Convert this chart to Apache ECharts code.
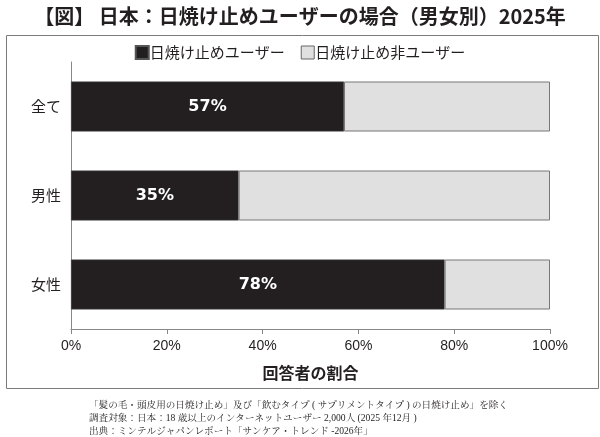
<!DOCTYPE html>
<html><head><meta charset="utf-8">
<script src="https://cdn.jsdelivr.net/npm/echarts@6/dist/echarts.min.js"></script>
<style>html,body{margin:0;padding:0;background:#fff}#c{width:600px;height:437px}</style>
</head><body><div id="c"></div>
<script>
const categories = ['全て', '男性', '女性'];
const users = [57, 35, 78];
const nonUsers = [43, 65, 22];
const seriesNames = ['日焼け止めユーザー', '日焼け止め非ユーザー'];
const tickLabels = ['0%', '20%', '40%', '60%', '80%', '100%'];
const titleText = '【図】 日本：日焼け止めユーザーの場合（男女別）2025年';
const axisName = '回答者の割合';
const notes = [
  '「髪の毛・頭皮用の日焼け止め」及び「飲むタイプ ( サプリメントタイプ ) の日焼け止め」を除く',
  '調査対象：日本：18 歳以上のインターネットユーザー 2,000人 (2025 年12月 )',
  '出典：ミンテルジャパンレポート「サンケア・トレンド -2026年」'
];
const sans = '"Noto Sans CJK JP", sans-serif';
const latin = '"Liberation Sans", "Noto Sans CJK JP", sans-serif';
const chart = echarts.init(document.getElementById('c'));
chart.setOption({
  animation: false,
  backgroundColor: '#fff',
  title: {text: titleText, left: 'center', top: 1,
    textStyle: {fontFamily: sans, fontSize: 20, fontWeight: 'bold', color: '#231f20'}},
  graphic: [
    {type: 'rect', left: 4, top: 33, shape: {width: 592, height: 353}, style: {fill: 'none', stroke: '#7a7a7a', lineWidth: 1}},
    {type: 'text', left: 89, top: 399, style: {text: notes.join('\n'), font: '9.6px "Liberation Serif", "Noto Serif CJK JP", serif', lineHeight: 13, fill: '#231f20'}}
  ],
  legend: {top: 40, left: 'center', itemGap: 16, itemWidth: 13, itemHeight: 13, icon: 'rect',
    textStyle: {fontFamily: sans, fontSize: 15, color: '#231f20', padding: [0,0,0,-4]},
    data: [{name: seriesNames[0]}, {name: seriesNames[1], itemStyle: {borderColor: '#666', borderWidth: 1}}]},
  grid: {left: 71, right: 50, top: 62, bottom: 108, containLabel: false},
  xAxis: {type: 'value', min: 0, max: 100, interval: 20,
    axisLabel: {formatter: v => tickLabels[v / 20], fontFamily: latin, fontSize: 14, color: '#231f20', margin: 10},
    axisLine: {show: true, lineStyle: {color: '#888'}},
    axisTick: {show: true, length: 5, lineStyle: {color: '#888'}},
    splitLine: {show: false},
    name: axisName, nameLocation: 'middle', nameGap: 36,
    nameTextStyle: {fontFamily: sans, fontSize: 16, fontWeight: 'bold', color: '#231f20'}},
  yAxis: {type: 'category', data: categories, inverse: true,
    axisLine: {show: true, lineStyle: {color: '#888'}},
    axisTick: {show: false},
    axisLabel: {fontFamily: sans, fontSize: 15, color: '#231f20', margin: 10}},
  series: [
    {name: seriesNames[0], type: 'bar', stack: 's', data: users, barWidth: 50,
      itemStyle: {color: '#231f20', borderColor: '#555', borderWidth: 0.5},
      label: {show: true, position: 'inside', formatter: '{c}%', color: '#fff', fontFamily: '"DejaVu Sans", sans-serif', fontSize: 16, fontWeight: 'bold'}},
    {name: seriesNames[1], type: 'bar', stack: 's', data: nonUsers, barWidth: 50,
      itemStyle: {color: '#e0e0e1', borderColor: '#777', borderWidth: 1}}
  ]
});
</script></body></html>
